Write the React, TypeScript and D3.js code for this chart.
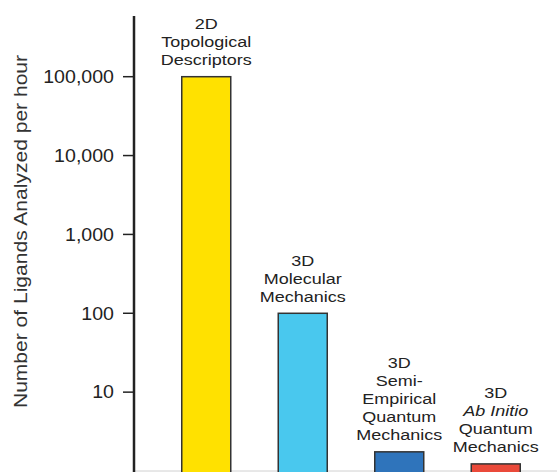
import React, { useEffect, useRef } from "react";
import * as d3 from "d3";

// chart values
const methods = ["2D Topological", "3D Molecular", "3D Semi-Empirical", "3D Ab Initio"];
const ligandsPerHour = [100000, 100, 1.75, 1.23];
const barColors = ["#FFE100", "#49C8EE", "#2F74BB", "#EA4A3A"];
const labelLines = [
    [["2D"], ["Topological"], ["Descriptors"]],
    [["3D"], ["Molecular"], ["Mechanics"]],
    [["3D"], ["Semi-"], ["Empirical"], ["Quantum"], ["Mechanics"]],
    [["3D"], ["Ab Initio", "italic"], ["Quantum"], ["Mechanics"]],
];
const tickValues = [10, 100, 1000, 10000, 100000];
const yTitle = "Number of Ligands Analyzed per hour";

const FONT = "'Liberation Sans', Arial, Helvetica, sans-serif";

function LigandChart() {
    const svgRef = useRef(null);

    useEffect(() => {
        const width = 557, height = 472;
        const axisX = 134;
        const svg = d3.select(svgRef.current);
        svg.selectAll("*").remove();

        const yScale = d3.scaleLog().domain([1, 100000]).range([471, 76.7]);
        const xScale = d3.scalePoint().domain(methods).range([158, 544]).padding(0.5);
        const barW = 49;

        // light baseline
        svg.append("line")
            .attr("x1", axisX).attr("x2", width)
            .attr("y1", 471).attr("y2", 471)
            .attr("stroke", "#d0d0d0").attr("stroke-width", 1);

        // bars
        svg.selectAll("rect.bar")
            .data(methods)
            .enter()
            .append("rect")
            .attr("class", "bar")
            .attr("x", d => xScale(d) - barW / 2)
            .attr("width", barW)
            .attr("y", (d, i) => yScale(ligandsPerHour[i]))
            .attr("height", (d, i) => height + 5 - yScale(ligandsPerHour[i]))
            .attr("fill", (d, i) => barColors[i])
            .attr("stroke", "#333")
            .attr("stroke-width", 1.5);

        // bar labels
        methods.forEach((m, i) => {
            const lines = labelLines[i];
            const lastBase = yScale(ligandsPerHour[i]) - 11.5;
            lines.forEach((ln, j) => {
                const y = lastBase - (lines.length - 1 - j) * 18;
                svg.append("g")
                    .attr("transform", `translate(${xScale(m)},${y}) scale(1.16,1)`)
                    .append("text")
                    .attr("text-anchor", "middle")
                    .attr("font-family", FONT)
                    .attr("font-size", 15.5)
                    .attr("font-style", ln[1] || "normal")
                    .attr("fill", "#222")
                    .text(ln[0]);
            });
        });

        // y axis
        const axis = svg.append("g").attr("transform", `translate(${axisX},0)`);
        axis.append("line")
            .attr("x1", 0).attr("x2", 0)
            .attr("y1", 16).attr("y2", height)
            .attr("stroke", "#222").attr("stroke-width", 2.5);
        const ticks = axis.selectAll("g.tick")
            .data(tickValues)
            .enter()
            .append("g")
            .attr("class", "tick")
            .attr("transform", d => `translate(0,${yScale(d)})`);
        ticks.append("line")
            .attr("x1", -11).attr("x2", 0)
            .attr("stroke", "#222").attr("stroke-width", 1.5);
        ticks.append("g")
            .attr("transform", "translate(-20,6.3) scale(1.12,1)")
            .append("text")
            .attr("text-anchor", "end")
            .attr("font-family", FONT)
            .attr("font-size", 17.5)
            .attr("fill", "#222")
            .text(d => d3.format(",")(d));

        // axis title
        svg.append("g")
            .attr("transform", "translate(26.5,231.5) rotate(-90) scale(1.12,1)")
            .append("text")
            .attr("text-anchor", "middle")
            .attr("font-family", FONT)
            .attr("font-size", 18.8)
            .attr("fill", "#333")
            .text(yTitle);
    }, []);

    return (
        <svg ref={svgRef} width={557} height={472}
            style={{ position: "absolute", left: 0, top: 0, background: "#fff" }} />
    );
}

export default function App() {
    return <LigandChart />;
}
